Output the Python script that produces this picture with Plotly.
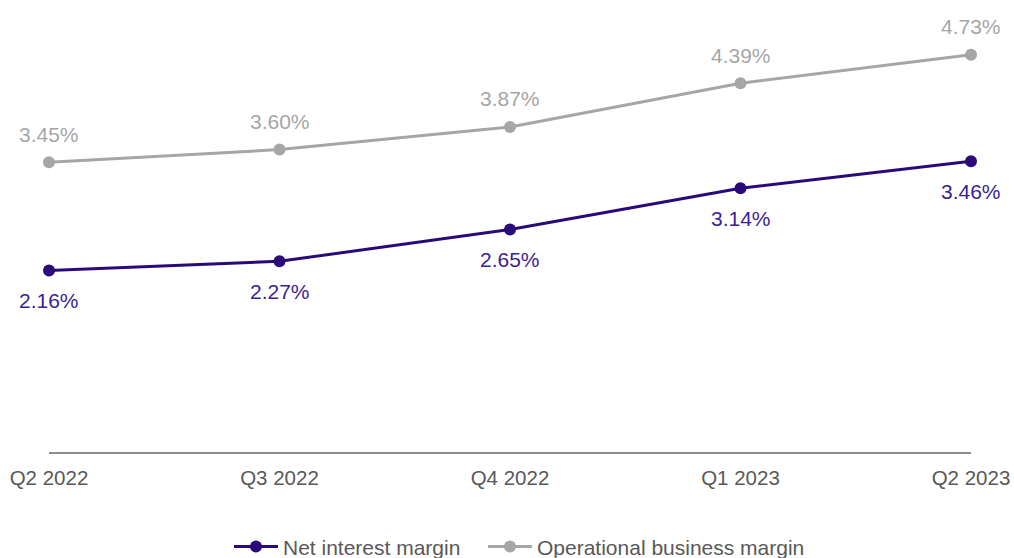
import plotly.graph_objects as go

quarters = ["Q2 2022", "Q3 2022", "Q4 2022", "Q1 2023", "Q2 2023"]
net_interest_margin = [2.16, 2.27, 2.65, 3.14, 3.46]
operational_business_margin = [3.45, 3.60, 3.87, 4.39, 4.73]

PURPLE = "#2A0A78"
PURPLE_TEXT = "#3B1F94"
GRAY = "#A6A6A6"
FONT = "Liberation Sans, Arial, sans-serif"

xs = list(range(len(quarters)))

fig = go.Figure()
fig.add_trace(go.Scatter(
    x=xs, y=net_interest_margin, name="Net interest margin",
    mode="lines+markers", cliponaxis=False, legend="legend",
    line=dict(color=PURPLE, width=3),
    marker=dict(color=PURPLE, size=12),
))
fig.add_trace(go.Scatter(
    x=xs, y=operational_business_margin, name="Operational business margin",
    mode="lines+markers", cliponaxis=False, legend="legend2",
    line=dict(color=GRAY, width=3),
    marker=dict(color=GRAY, size=12),
))

annotations = []
for x, v in zip(xs, net_interest_margin):
    annotations.append(dict(x=x, y=v, text=f"{v:.2f}%", showarrow=False,
                            yshift=-30, font=dict(color=PURPLE_TEXT, size=21, family=FONT)))
for x, v in zip(xs, operational_business_margin):
    annotations.append(dict(x=x, y=v, text=f"{v:.2f}%", showarrow=False,
                            yshift=28, font=dict(color=GRAY, size=21, family=FONT)))

legend_style = dict(orientation="h", xanchor="left", y=-0.226, yanchor="middle",
                    font=dict(size=21, color="#595959"), itemwidth=44,
                    bgcolor="rgba(0,0,0,0)")

fig.update_layout(
    width=1014, height=558,
    margin=dict(l=49, r=43, t=32, b=106, autoexpand=False),
    paper_bgcolor="white", plot_bgcolor="white",
    font=dict(family=FONT, size=20.5, color="#595959"),
    annotations=annotations,
    showlegend=True,
    legend=dict(x=0.1952, **legend_style),
    legend2=dict(x=0.4707, **legend_style),
    xaxis=dict(range=[0, 4], tickvals=xs, ticktext=quarters, showgrid=False,
               zeroline=False, showline=True, linecolor="#8C8C8C", linewidth=2,
               ticks="", tickfont=dict(size=20.5, color="#595959"), ticklabelstandoff=6),
    yaxis=dict(range=[0, 5], visible=False, showgrid=False, zeroline=False),
)

fig.write_html("out.html")
